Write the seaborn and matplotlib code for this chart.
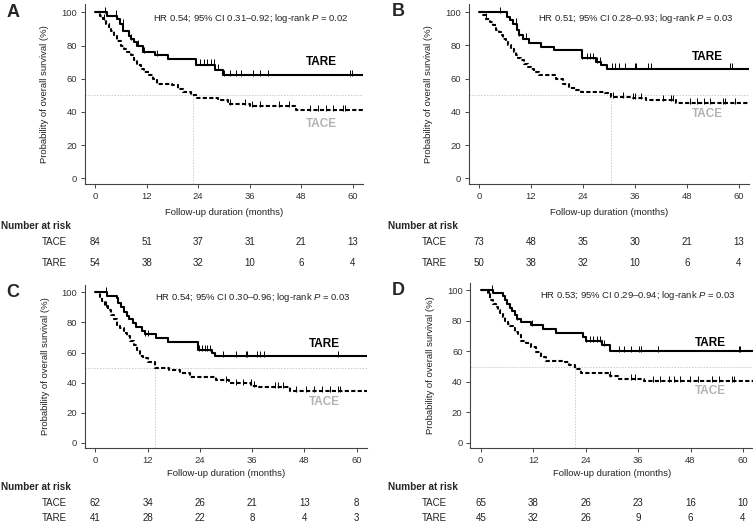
import numpy as np
import matplotlib
matplotlib.use("Agg")
import matplotlib.pyplot as plt
import matplotlib.transforms as mtransforms
import seaborn as sns

# --- Data (months, % surviving) ---
xticks = [0, 12, 24, 36, 48, 60]

# Panel A
a_tare_t = [0, 2.7, 5.0, 5.8, 6.6, 7.8, 8.4, 9.0, 9.7, 11.2, 13.9, 17.0, 23.6, 27.8, 29.7]
a_tare_s = [100, 98, 96, 93, 89, 86, 84, 82, 80, 76, 74, 72, 68.5, 65.5, 62]
a_tare_c = [2.4, 4.8, 6.4, 8.4, 10.1, 11.5, 14.5, 24.5, 25.3, 26.1, 26.9, 27.7, 28.5,
            29.9, 31.3, 32.8, 34.0, 36.8, 38.4, 40.3, 59.3, 59.8]
a_tace_t = [0, 1.2, 1.8, 2.5, 3.2, 3.8, 4.5, 5.2, 6.0, 6.8, 7.5, 8.3, 9.0, 9.8, 10.6,
            11.5, 12.5, 13.5, 14.5, 18.0, 19.3, 20.5, 22.3, 23.8, 28.5, 31.0, 36.0, 46.8]
a_tace_s = [100, 98, 96, 93, 91, 89, 86, 83, 80, 78, 76, 74, 71, 68, 66,
            64, 62, 60, 57, 56, 54, 52, 50, 48.5, 47, 44.5, 43.5, 41]
a_tace_c = [2.1, 31.3, 34.8, 36.4, 38.4, 42.7, 45.1, 50.0, 51.8, 53.8, 55.3, 57.7, 58.1]
a_median = 22.8
a_risk_tace = [84, 51, 37, 31, 21, 13]
a_risk_tare = [54, 38, 32, 10, 6, 4]
a_stats = "HR 0.54; 95% CI 0.31\u20130.92; log-rank $P$ = 0.02"

# Panel B
b_tare_t = [0, 6.5, 7.2, 7.9, 8.7, 9.2, 10.2, 11.5, 14.3, 17.3, 23.8, 27.0, 28.2, 29.5]
b_tare_s = [100, 97, 95, 93, 89, 86, 84, 81.5, 79, 77, 72.5, 70, 68, 66]
b_tare_c = [4.8, 8.6, 9.3, 10.9, 23.8, 24.9, 25.7, 26.4, 27.2, 27.9, 30.6, 31.4, 32.3,
            33.6, 35.9, 36.3, 39.0, 39.7, 57.9, 58.3]
b_tace_t = [0, 1.0, 1.6, 2.5, 3.2, 3.9, 4.5, 5.0, 5.6, 6.2, 6.8, 7.4, 8.0, 8.5, 9.1,
            9.7, 10.4, 11.2, 12.0, 12.8, 13.9, 17.8, 19.3, 20.8, 22.3, 23.5, 29.0,
            30.5, 35.5, 38.5, 45.5]
b_tace_s = [100, 98, 96, 94, 92, 89, 88, 86, 84, 82, 80, 78, 76, 74, 72.5,
            71, 69, 67, 65.5, 64, 62, 60, 57, 54.5, 53, 52, 51,
            49, 48, 47, 45]
b_tace_c = [1.7, 31.0, 33.3, 35.5, 36.0, 37.4, 42.4, 44.3, 44.7, 48.8, 50.3, 51.9,
            53.4, 56.4, 56.8, 59.1]
b_median = 30.4
b_risk_tace = [73, 48, 35, 30, 21, 13]
b_risk_tare = [50, 38, 32, 10, 6, 4]
b_stats = "HR 0.51; 95% CI 0.28\u20130.93; log-rank $P$ = 0.03"

# Panel C
c_tare_t = [0, 2.6, 4.9, 5.3, 5.8, 6.5, 7.2, 7.8, 8.6, 9.3, 10.8, 11.5, 14.0, 16.8,
            23.6, 26.8, 27.4]
c_tare_s = [100, 97.5, 96, 93, 90, 87, 84, 82, 79.5, 77, 74.5, 72, 69.5, 67,
            61.5, 59.5, 57.5]
c_tare_c = [2.4, 11.5, 12.2, 23.8, 24.5, 25.1, 25.7, 26.3, 29.4, 32.3, 34.6, 34.9,
            37.2, 37.9, 38.7, 55.8]
c_tace_t = [0, 1.0, 1.6, 2.2, 2.9, 3.5, 4.2, 4.9, 5.7, 6.5, 7.3, 8.0, 8.8, 9.5, 10.2,
            11.0, 12.2, 13.6, 17.0, 19.5, 21.8, 27.8, 30.8, 35.8, 37.5, 44.6]
c_tace_s = [100, 97, 94, 91, 88, 85, 82, 78.5, 76, 73, 71, 68, 65, 62, 58,
            56.5, 54, 49.5, 48.5, 46.5, 44, 41.5, 39.5, 38, 37, 34.5]
c_tace_c = [2.4, 30.1, 32.3, 33.8, 35.7, 36.4, 41.3, 41.9, 43.1, 46.1, 48.4, 50.2,
            52.1, 53.9, 55.8, 56.2]
c_median = 13.7
c_risk_tace = [62, 34, 26, 21, 13, 8]
c_risk_tare = [41, 28, 22, 8, 4, 3]
c_stats = "HR 0.54; 95% CI 0.30\u20130.96; log-rank $P$ = 0.03"

# Panel D
d_tare_t = [0, 2.8, 5.0, 5.6, 6.1, 6.6, 7.1, 7.8, 8.4, 9.2, 11.6, 14.3, 17.2, 23.5,
            24.0, 27.8, 29.5]
d_tare_s = [100, 98, 96, 93.5, 91, 88.5, 86.5, 84, 81.5, 79.5, 77.5, 74.5, 72, 69.5,
            67, 64, 60]
d_tare_c = [2.6, 8.4, 11.8, 24.2, 25.0, 25.7, 26.5, 27.3, 28.1, 31.6, 32.7, 34.3,
            36.2, 36.6, 40.5, 59.1, 59.4]
d_tace_t = [0, 1.7, 2.1, 2.8, 3.4, 3.9, 4.5, 5.0, 5.6, 6.2, 6.8, 7.3, 7.9, 8.5, 9.3,
            10.4, 11.6, 12.7, 13.9, 15.0, 19.2, 20.3, 21.5, 23.0, 29.6, 31.6, 37.4]
d_tace_s = [100, 97.5, 93.5, 91, 89, 87, 85, 82.5, 80, 78, 76.5, 75, 72.5, 70.5, 67,
            65.5, 63, 59.5, 56, 54, 53, 51, 48.5, 46, 44, 42, 40.5]
d_tace_c = [1.8, 29.6, 34.3, 35.4, 39.3, 40.9, 43.0, 44.3, 45.5, 47.8, 49.8, 52.9,
            54.4, 57.5, 57.9]
d_median = 21.5
d_risk_tace = [65, 38, 26, 23, 16, 10]
d_risk_tare = [45, 32, 26, 9, 6, 4]
d_stats = "HR 0.53; 95% CI 0.29\u20130.94; log-rank $P$ = 0.03"

panels = [
    dict(letter="A", tare=(a_tare_t, a_tare_s, a_tare_c), tace=(a_tace_t, a_tace_s, a_tace_c),
         median=a_median, risk=(a_risk_tace, a_risk_tare), stats=a_stats,
         frame=(95, 353, 12.3, 178.3), lab=(70, 32.7), rows=(242, 263), nar=226, xlpad=5),
    dict(letter="B", tare=(b_tare_t, b_tare_s, b_tare_c), tace=(b_tace_t, b_tace_s, b_tace_c),
         median=b_median, risk=(b_risk_tace, b_risk_tare), stats=b_stats,
         frame=(479, 739, 12.0, 178.3), lab=(73, 38.5), rows=(242, 263), nar=226, xlpad=5),
    dict(letter="C", tare=(c_tare_t, c_tare_s, c_tare_c), tace=(c_tace_t, c_tace_s, c_tace_c),
         median=c_median, risk=(c_risk_tace, c_risk_tare), stats=c_stats,
         frame=(95.3, 356.7, 292.3, 443), lab=(65.5, 27.4), rows=(503, 518), nar=487, xlpad=3),
    dict(letter="D", tare=(d_tare_t, d_tare_s, d_tare_c), tace=(d_tace_t, d_tace_s, d_tace_c),
         median=d_median, risk=(d_risk_tace, d_risk_tare), stats=d_stats,
         frame=(480.7, 743, 290.3, 443), lab=(65.7, 34), rows=(503, 518), nar=487, xlpad=3),
]

# --- Style ---
sns.set_style("ticks")
plt.rcParams["font.family"] = ["Liberation Sans", "DejaVu Sans"]
plt.rcParams["mathtext.fontset"] = "custom"
plt.rcParams["mathtext.it"] = "Liberation Sans:italic"
plt.rcParams["mathtext.rm"] = "Liberation Sans"

W, H = 753, 523
XMIN, XMAX, YMIN, YMAX = -2.4, 62.3, -3.5, 105
FS = 6.8
GREY = "#444444"

fig = plt.figure(figsize=(W / 100, H / 100), dpi=100)


def step_at(t, s, pts):
    idx = np.searchsorted(t, pts, side="right") - 1
    return np.asarray(s)[idx]


for p in panels:
    x0, x60, y100, y0 = p["frame"]
    pxm = (x60 - x0) / 60
    pxp = (y0 - y100) / 100
    left = x0 + XMIN * pxm
    right = x0 + XMAX * pxm
    top = y0 - YMAX * pxp
    bottom = y0 - YMIN * pxp
    ax = fig.add_axes([left / W, 1 - bottom / H, (right - left) / W, (bottom - top) / H])
    ax.set_xlim(XMIN, XMAX)
    ax.set_ylim(YMIN, YMAX)

    # median reference lines
    ax.axhline(50, color="#cccccc", lw=0.7, ls=(0, (1.5, 1.5)), zorder=1)
    ax.plot([p["median"], p["median"]], [YMIN, 50], color="#cccccc", lw=0.7,
            ls=(0, (1.5, 1.5)), zorder=1)

    for key, style in [("tace", (0, (2.0, 1.1))), ("tare", "-")]:
        t, s, c = p[key]
        tt = np.append(t, XMAX)
        ss = np.append(s, s[-1])
        sns.lineplot(x=tt, y=ss, ax=ax, color="black", lw=1.5, estimator=None,
                     drawstyle="steps-post", linestyle=style, zorder=3)
        cy = step_at(np.array(t), s, np.array(c)) + 1.3
        ax.plot(c, cy, ls="none", marker="|", ms=4, mew=0.7, color="black", zorder=3)

    ax.set_xticks(xticks)
    ax.set_yticks([0, 20, 40, 60, 80, 100])
    ax.tick_params(axis="both", labelsize=FS, length=3, width=0.7, pad=2.5,
                   colors=GREY, labelcolor="#333333")
    for side in ["top", "right"]:
        ax.spines[side].set_visible(False)
    for side in ["left", "bottom"]:
        ax.spines[side].set_color(GREY)
        ax.spines[side].set_linewidth(0.8)

    ax.set_xlabel("Follow-up duration (months)", fontsize=FS, labelpad=p["xlpad"], color="#222222")
    ax.set_ylabel("Probability of overall survival (%)", fontsize=FS, labelpad=8.5, color="#222222")

    ax.text(13.6, 96.3, p["stats"], fontsize=FS, va="center", ha="left", color="#222222")
    ax.text(52.6, p["lab"][0], "TARE", fontsize=8.5, fontweight="bold", ha="center",
            va="center", color="black")
    ax.text(52.6, p["lab"][1], "TACE", fontsize=8.5, fontweight="bold", ha="center",
            va="center", color="#b3b3b3")

    # panel letter
    lx = 13 if p["letter"] in "AC" else 398
    fig.text(lx / W, 1 - y100 / H, p["letter"], fontsize=13, fontweight="bold",
             ha="center", va="center")

    # number at risk table
    nx = 1 if p["letter"] in "AC" else 388
    rx = 67 if p["letter"] in "AC" else 447
    fig.text(nx / W, 1 - p["nar"] / H, "Number at risk", fontsize=7.2, fontweight="bold",
             ha="left", va="center")
    blend = mtransforms.blended_transform_factory(ax.transData, fig.transFigure)
    for name, counts, ry in zip(["TACE", "TARE"], p["risk"], p["rows"]):
        fig.text(rx / W, 1 - ry / H, name, fontsize=7.0, ha="right", va="center",
                 color="#222222")
        for xt, n in zip(xticks, counts):
            ax.text(xt, 1 - ry / H, str(n), fontsize=7.0, ha="center", va="center",
                    transform=blend, color="#222222", clip_on=False)

fig.savefig("out.png", dpi=100)
